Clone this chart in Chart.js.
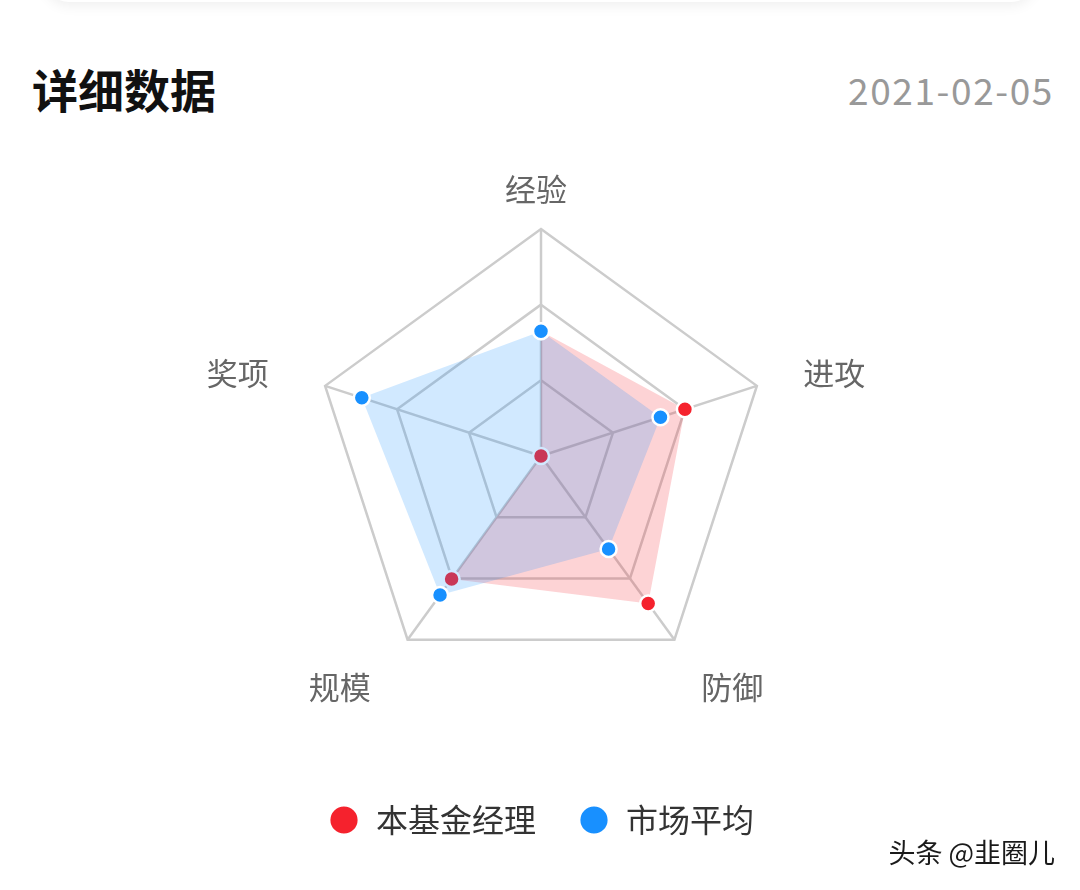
<!DOCTYPE html>
<html>
<head>
<meta charset="utf-8">
<script src="https://cdn.jsdelivr.net/npm/chart.js@4/dist/chart.umd.min.js"></script>
<style>
  html, body { margin: 0; padding: 0; background: #fff; }
  body { width: 1080px; height: 890px; position: relative; overflow: hidden;
         font-family: "Noto Sans CJK SC", "Noto Sans", sans-serif; }
  .card-top { position: absolute; left: 45px; top: -60px; width: 990px; height: 62px;
              border-radius: 24px; background: #fff; box-shadow: 0 3px 14px rgba(0,0,0,0.07); }
  .title { position: absolute; left: 32px; top: 56px; font-size: 46px; font-weight: 700;
           color: #111; line-height: 64px; }
  .date { position: absolute; right: 26px; top: 64px; font-size: 37px; color: #999;
          line-height: 50px; letter-spacing: 1.6px; font-family: "Noto Sans CJK SC", Roboto, sans-serif; }
  .mark { position: absolute; right: 25px; top: 833px; font-size: 27px; color: #1a1a1a;
          line-height: 38px; text-shadow: 0 0 2px #fff, 1px 1px 1px #fff; }
  #wrap { position: absolute; left: 0; top: 0; width: 1080px; height: 890px; }
</style>
</head>
<body>
<div class="card-top"></div>
<div class="title">详细数据</div>
<div class="date">2021-02-05</div>
<div id="wrap"><canvas id="radarChart"></canvas></div>
<div class="mark">头条 @韭圈儿</div>

<script>
const categories = ['经验', '进攻', '防御', '规模', '奖项'];
const seriesNames = ['本基金经理', '市场平均'];
const managerValues = [1.65, 2.0, 2.41, 2.01, 0];
const marketValues = [1.65, 1.66, 1.52, 2.27, 2.49];
const scaleMax = 3;

const RED = '#f5222d';
const BLUE = '#1890ff';

// axis names drawn next to the outer ring, aligned by which side of the centre they sit on
const axisNamePlugin = {
    id: 'axisNames',
    afterDatasetsDraw(chart) {
        const scale = chart.scales.r;
        const ctx = chart.ctx;
        ctx.save();
        ctx.font = '31px "Noto Sans CJK SC", sans-serif';
        ctx.fillStyle = '#666';
        ctx.textBaseline = 'middle';
        categories.forEach((name, i) => {
            const base = scale.getPointPosition(i, scale.drawingArea);
            const dx = base.x - scale.xCenter;
            const vertical = Math.abs(dx) < 1;
            const p = scale.getPointPosition(i, scale.drawingArea + (vertical ? 44 : 54));
            ctx.textAlign = vertical ? 'center' : (dx > 0 ? 'left' : 'right');
            ctx.fillText(name, p.x - 5, p.y + 4);
        });
        ctx.restore();
    }
};

const ctx = document.getElementById('radarChart').getContext('2d');
new Chart(ctx, {
    type: 'radar',
    data: {
        labels: categories,
        datasets: [{
            label: seriesNames[0],
            data: managerValues,
            backgroundColor: 'rgba(245, 34, 45, 0.2)',
            borderColor: RED,
            borderWidth: 0,
            fill: true,
            pointBackgroundColor: RED,
            pointBorderColor: '#fff',
            pointBorderWidth: 2.5,
            pointRadius: 8,
            pointHoverRadius: 8,
            order: 1
        }, {
            label: seriesNames[1],
            data: marketValues,
            backgroundColor: 'rgba(24, 144, 255, 0.2)',
            borderColor: BLUE,
            borderWidth: 0,
            fill: true,
            pointBackgroundColor: BLUE,
            pointBorderColor: '#fff',
            pointBorderWidth: 2.5,
            pointRadius: 8,
            pointHoverRadius: 8,
            order: 0
        }]
    },
    options: {
        responsive: true,
        maintainAspectRatio: false,
        animation: false,
        layout: { padding: { left: 164, right: 162, top: 229, bottom: 44 } },
        scales: {
            r: {
                min: 0,
                max: scaleMax,
                ticks: { display: false, stepSize: 1 },
                pointLabels: { display: false },
                grid: { color: '#cccccc', lineWidth: 2.5 },
                angleLines: { color: '#cccccc', lineWidth: 2.5 }
            }
        },
        plugins: {
            tooltip: { enabled: false },
            legend: {
                position: 'bottom',
                title: { display: true, text: '', padding: { top: 67, bottom: 0 }, font: { size: 10 } },
                labels: {
                    usePointStyle: true,
                    pointStyle: 'circle',
                    boxHeight: 21,
                    boxWidth: 32,
                    padding: 42,
                    color: '#333',
                    font: { size: 32, family: '"Noto Sans CJK SC", sans-serif' },
                    sort: (a, b) => a.datasetIndex - b.datasetIndex
                }
            }
        }
    },
    plugins: [axisNamePlugin]
});
</script>
</body>
</html>
